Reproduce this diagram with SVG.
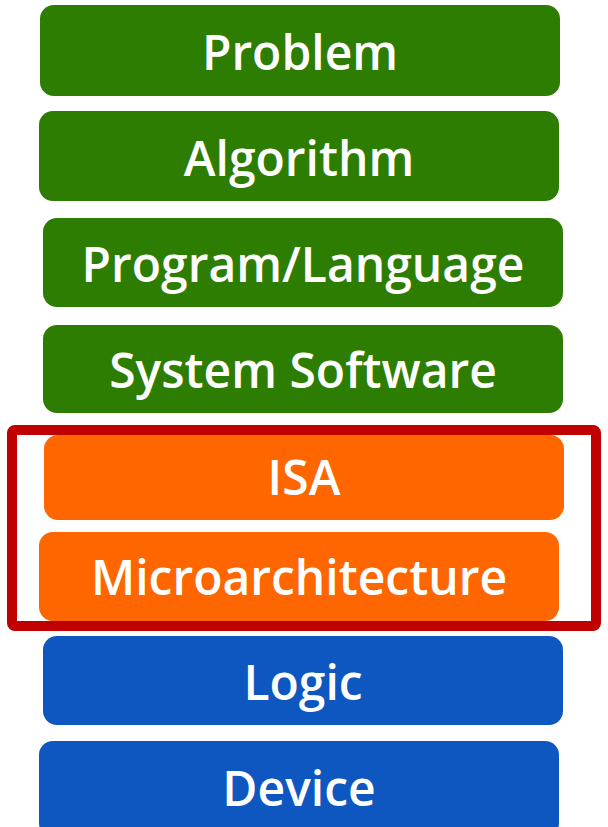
<svg xmlns="http://www.w3.org/2000/svg" width="608" height="827" viewBox="0 0 608 827">
  <style>
    .layer text { font-family: "Open Sans", "DejaVu Sans", sans-serif; font-weight: 650; font-size: 48px; fill: #ffffff; text-anchor: middle; dominant-baseline: central; }
    .sw rect { fill: #2E7D03; }
    .hw rect { fill: #FF6600; }
    .lo rect { fill: #0E57C1; }
    .frame { fill: none; stroke: #C00000; stroke-width: 10; }
  </style>
  <rect width="608" height="827" fill="#ffffff"/>
  <g id="problem" class="layer sw"><rect x="40" y="5" width="520" height="91" rx="14"/><text x="300" y="51">Problem</text></g>
  <g id="algorithm" class="layer sw"><rect x="39" y="111" width="520" height="90" rx="14"/><text x="299" y="157">Algorithm</text></g>
  <g id="program" class="layer sw"><rect x="43" y="218" width="520" height="89" rx="14"/><text x="303" y="263">Program/Language</text></g>
  <g id="syssw" class="layer sw"><rect x="43" y="325" width="520" height="88" rx="14"/><text x="303" y="369">System Software</text></g>
  <g id="isa" class="layer hw"><rect x="44" y="435" width="520" height="85" rx="14"/><text x="304" y="476">ISA</text></g>
  <g id="uarch" class="layer hw"><rect x="39" y="532" width="520" height="89" rx="14"/><text x="299" y="576">Microarchitecture</text></g>
  <g id="logic" class="layer lo"><rect x="43" y="636" width="520" height="89" rx="14"/><text x="303" y="681">Logic</text></g>
  <g id="device" class="layer lo"><rect x="39" y="741" width="520" height="96" rx="14"/><text x="299" y="787">Device</text></g>
  <g id="connectors"></g>
  <rect class="frame" x="12" y="430" width="584" height="196" rx="3"/>
</svg>
